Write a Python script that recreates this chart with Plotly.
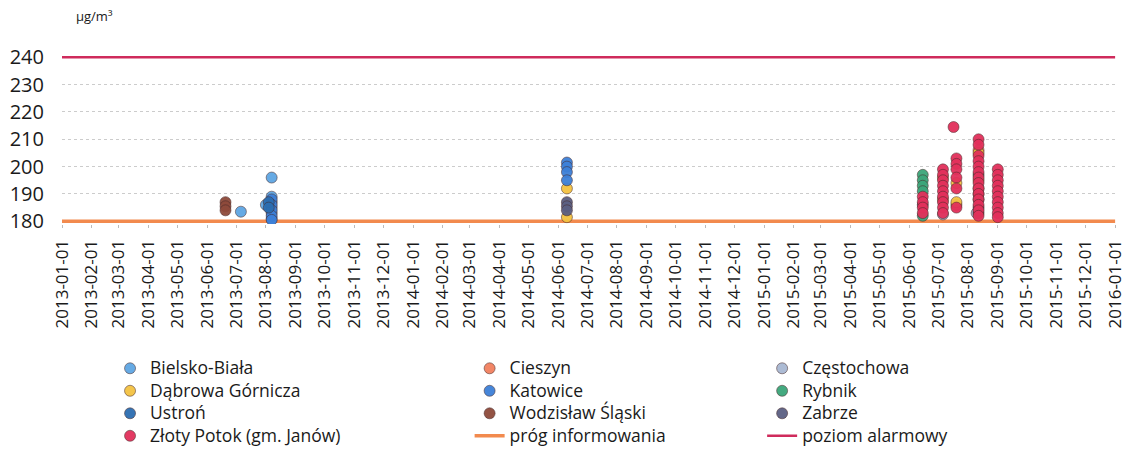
import plotly.graph_objects as go

# --- data (daily O3 8h values above threshold, µg/m³) ---
bielsko_dates = ["2013-07-06", "2013-08-01", "2013-08-07", "2013-08-07", "2013-08-07", "2013-08-07", "2013-08-07", "2013-08-07"]
bielsko_vals = [183.5, 186, 196, 189, 187, 185, 183, 181]

cieszyn_dates = ["2015-07-20", "2015-08-12", "2015-08-12"]
cieszyn_vals = [186, 206, 192]

czestochowa_dates = ["2015-07-06", "2015-08-10"]
czestochowa_vals = [182.5, 183]

dabrowa_dates = ["2014-06-10", "2014-06-10", "2015-07-06", "2015-07-06", "2015-07-20", "2015-07-20", "2015-08-12", "2015-08-12"]
dabrowa_vals = [192, 181.5, 196, 188, 194, 187, 205, 195]

katowice_dates = ["2013-08-07", "2013-08-07", "2013-08-07", "2013-08-07", "2013-08-07",
                  "2014-06-10", "2014-06-10", "2014-06-10", "2014-06-10"]
katowice_vals = [188, 186, 184, 182, 180.5, 201.5, 200, 198, 195]

rybnik_dates = ["2015-06-15", "2015-06-15", "2015-06-15", "2015-06-15", "2015-06-15", "2015-08-12", "2015-08-12"]
rybnik_vals = [197, 195, 193, 191, 182, 197, 188]

ustron_dates = ["2013-08-04", "2013-08-04"]
ustron_vals = [187, 185]

wodzislaw_dates = ["2013-06-20", "2013-06-20", "2013-06-20", "2015-08-12", "2015-08-12"]
wodzislaw_vals = [187, 185.5, 184, 190, 183]

zabrze_dates = ["2014-06-10", "2014-06-10", "2014-06-10", "2015-06-15", "2015-08-12"]
zabrze_vals = [187, 185.5, 184, 186, 185]

zloty_dates = (["2015-06-15"] * 4 + ["2015-07-06"] * 9 + ["2015-07-17"] + ["2015-07-20"] * 6
               + ["2015-08-12"] * 14 + ["2015-09-01"] * 10)
zloty_vals = ([189, 187, 185, 183]
              + [199, 197, 195, 193, 191, 189, 187, 185, 183]
              + [214.5]
              + [203, 201, 199, 196, 192, 185]
              + [210, 208, 204, 202, 200, 198, 196, 194, 192, 190, 188, 186, 184, 182]
              + [199, 197, 195, 193, 191, 189, 187, 185, 183, 181.5])

info_threshold = 180
alarm_level = 240
x_start, x_end = "2013-01-01", "2016-01-01"

FONT = "Open Sans"


def big(label):
    # larger legend text while keeping the tight row spacing of the original
    return f"<span style='font-size:17.5px'>{label}</span>"


fig = go.Figure()

# threshold lines
fig.add_trace(go.Scatter(x=[x_start, x_end], y=[info_threshold, info_threshold], mode="lines",
                         name=big("próg informowania"), line=dict(color="#F28A4E", width=3.5),
                         legend="legend2", legendrank=4))
fig.add_trace(go.Scatter(x=[x_start, x_end], y=[alarm_level, alarm_level], mode="lines",
                         name=big("poziom alarmowy"), line=dict(color="#CF2B5C", width=2.5),
                         legend="legend3", legendrank=4))

series = [
    ("Bielsko-Biała", bielsko_dates, bielsko_vals, "#5EA6E3", "legend", 1),
    ("Cieszyn", cieszyn_dates, cieszyn_vals, "#F2805E", "legend2", 1),
    ("Częstochowa", czestochowa_dates, czestochowa_vals, "#A8B8D2", "legend3", 1),
    ("Dąbrowa Górnicza", dabrowa_dates, dabrowa_vals, "#F4C242", "legend", 2),
    ("Katowice", katowice_dates, katowice_vals, "#3D80D8", "legend2", 2),
    ("Rybnik", rybnik_dates, rybnik_vals, "#3BA67A", "legend3", 2),
    ("Ustroń", ustron_dates, ustron_vals, "#2C6DB0", "legend", 3),
    ("Wodzisław Śląski", wodzislaw_dates, wodzislaw_vals, "#8E4A3B", "legend2", 3),
    ("Zabrze", zabrze_dates, zabrze_vals, "#5B5F82", "legend3", 3),
    ("Złoty Potok (gm. Janów)", zloty_dates, zloty_vals, "#E2305B", "legend", 4),
]
for name, xs, ys, col, lg, rank in series:
    fig.add_trace(go.Scatter(x=xs, y=ys, mode="markers", name=big(name),
                             marker=dict(color=col, size=11, opacity=0.95,
                                         line=dict(color="rgba(70,40,40,0.55)", width=1)),
                             legend=lg, legendrank=rank))

legend_style = dict(orientation="v", yanchor="top", y=-0.66, xanchor="left",
                    font=dict(family=FONT, size=15, color="#1a1a1a"),
                    bgcolor="rgba(0,0,0,0)", tracegroupgap=0, itemwidth=30, traceorder="normal")

fig.update_layout(
    width=1125, height=454,
    margin=dict(l=62, r=7, t=30, b=230, autoexpand=False),
    plot_bgcolor="white", paper_bgcolor="white",
    font=dict(family=FONT, size=17, color="#1a1a1a"),
    legend=dict(legend_style, x=0.0455),
    legend2=dict(legend_style, x=0.386),
    legend3=dict(legend_style, x=0.663),
    xaxis=dict(range=[x_start, "2016-01-04"], type="date", dtick="M1", tick0=x_start,
               tickformat="%Y-%m-%d", tickangle=-90, showgrid=False, zeroline=False,
               ticks="outside", ticklen=3, tickcolor="#bbbbbb", showline=False,
               automargin=False, ticklabeloverflow="allow", ticklabelstandoff=5,
               tickfont=dict(family=FONT, size=17)),
    yaxis=dict(range=[179, 250], tickvals=[180, 190, 200, 210, 220, 230, 240],
               showgrid=True, gridcolor="#cccccc", griddash="dot", gridwidth=1,
               zeroline=False, showline=False, ticks="", ticklabelstandoff=17,
               automargin=False, tickfont=dict(family=FONT, size=20)),
    annotations=[dict(text="µg/m³", xref="paper", yref="paper", x=0.011, y=1.015,
                      xanchor="left", yanchor="bottom", showarrow=False,
                      font=dict(family=FONT, size=13))],
)

# drop the default 8px body margin so the figure sits at the page origin
fig.write_html("out.html", config={"displayModeBar": False},
               post_script="document.body.style.margin='0';")
